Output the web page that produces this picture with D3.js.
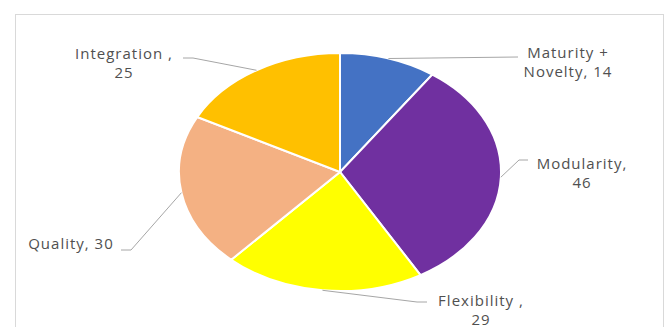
<!DOCTYPE html>
<html>
<head>
<meta charset="utf-8">
<script src="https://cdn.jsdelivr.net/npm/d3@7"></script>
<style>
  body { margin: 0; background: #fff; }
  svg { display: block; }
</style>
</head>
<body>
<svg width="667" height="327"></svg>
<script>
var categories = ['Maturity + Novelty', 'Modularity', 'Flexibility ', 'Quality', 'Integration '];
var values = [14, 46, 29, 30, 25];
var colors = ['#4472C4', '#7030A0', '#FFFF00', '#F4B183', '#FFC000'];

// label text lines, as shown in the chart
var labelLines = [
	['Maturity +', 'Novelty, 14'],
	['Modularity,', '46'],
	['Flexibility ,', '29'],
	['Quality, 30'],
	['Integration ,', '25']
];

// layout: label centre x, first baseline y, and elbow of the leader line
var labelLayout = [
	{ x: 568, y: 58, lx: 518, ly: 57, ex: 518, ey: 57 },
	{ x: 582, y: 169, lx: 528, ly: 160, ex: 519, ey: 160 },
	{ x: 481, y: 306, lx: 427, ly: 302, ex: 417, ey: 302 },
	{ x: 71, y: 249, lx: 121, ly: 250, ex: 131, ey: 250 },
	{ x: 124, y: 59, lx: 183, ly: 58, ex: 193, ey: 58 }
];

var cx = 340, cy = 172, rx = 161, ry = 119;

var svg = d3.select('svg');

// chart frame
svg.append('rect')
	.attr('x', 15.5)
	.attr('y', 14.5)
	.attr('width', 648)
	.attr('height', 330)
	.attr('fill', '#fff')
	.attr('stroke', '#D9D9D9')
	.attr('stroke-width', 1);

var pie = d3.pie().sort(null).value(function(d) { return d; });
var arcs = pie(values);

var arc = d3.arc().innerRadius(0).outerRadius(rx);

var pieLayer = svg.append('g')
	.attr('transform', 'translate(' + cx + ',' + cy + ') scale(1,' + (ry / rx) + ')');

pieLayer.selectAll('path')
	.data(arcs)
	.enter().append('path')
	.attr('d', arc)
	.attr('fill', function(d, i) { return colors[i]; })
	.attr('stroke', '#fff')
	.attr('stroke-width', 2)
	.attr('vector-effect', 'non-scaling-stroke');

// leader lines: from label elbow to arc edge at mid angle
function edgePoint(d) {
	var a = (d.startAngle + d.endAngle) / 2;
	return [cx + rx * Math.sin(a), cy - ry * Math.cos(a)];
}

var line = d3.line();

svg.selectAll('path.leader')
	.data(arcs)
	.enter().append('path')
	.attr('class', 'leader')
	.attr('d', function(d, i) {
		var l = labelLayout[i];
		return line([[l.lx, l.ly], [l.ex, l.ey], edgePoint(d)]);
	})
	.attr('fill', 'none')
	.attr('stroke', '#A6A6A6')
	.attr('stroke-width', 1);

var labels = svg.selectAll('text.lbl')
	.data(labelLines)
	.enter().append('text')
	.attr('class', 'lbl')
	.attr('text-anchor', 'middle')
	.attr('font-family', 'Open Sans, sans-serif')
	.attr('font-size', 15)
	.attr('letter-spacing', 1)
	.attr('fill', '#505050');

labels.each(function(lines, i) {
	var l = labelLayout[i];
	d3.select(this).selectAll('tspan')
		.data(lines)
		.enter().append('tspan')
		.attr('x', l.x)
		.attr('y', function(t, j) { return l.y + j * 19; })
		.text(function(t) { return t; });
});
</script>
</body>
</html>
